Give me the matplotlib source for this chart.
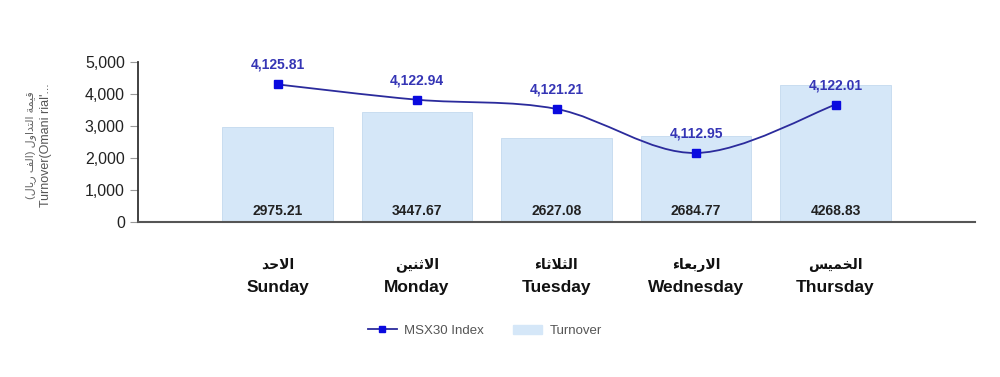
import numpy as np
import matplotlib
matplotlib.use('Agg')
import matplotlib.pyplot as plt
from matplotlib.path import Path
from matplotlib.patches import PathPatch, Patch
from matplotlib.lines import Line2D
from matplotlib.ticker import FuncFormatter

plt.rcParams['font.family'] = ['Liberation Sans', 'DejaVu Sans']

days_en = ['Sunday', 'Monday', 'Tuesday', 'Wednesday', 'Thursday']
days_ar = ['الاحد', 'الاثنين', 'الثلاثاء', 'الاربعاء', 'الخميس']
turnover = [2975.21, 3447.67, 2627.08, 2684.77, 4268.83]
msx30 = [4125.81, 4122.94, 4121.21, 4112.95, 4122.01]
ylabel_ar = 'قيمة التداول (الف ريال)'
ylabel_en = "Turnover(Omani rial'..."

# minimal arabic shaping (presentation forms + visual order)
FORMS = {
    'ا': (0xFE8D, 0xFE8E, None, None), 'أ': (0xFE83, 0xFE84, None, None),
    'ب': (0xFE8F, 0xFE90, 0xFE91, 0xFE92), 'ة': (0xFE93, 0xFE94, None, None),
    'ت': (0xFE95, 0xFE96, 0xFE97, 0xFE98), 'ث': (0xFE99, 0xFE9A, 0xFE9B, 0xFE9C),
    'ح': (0xFEA1, 0xFEA2, 0xFEA3, 0xFEA4), 'خ': (0xFEA5, 0xFEA6, 0xFEA7, 0xFEA8),
    'د': (0xFEA9, 0xFEAA, None, None), 'ر': (0xFEAD, 0xFEAE, None, None),
    'س': (0xFEB1, 0xFEB2, 0xFEB3, 0xFEB4), 'ع': (0xFEC9, 0xFECA, 0xFECB, 0xFECC),
    'ف': (0xFED1, 0xFED2, 0xFED3, 0xFED4), 'ق': (0xFED5, 0xFED6, 0xFED7, 0xFED8),
    'ل': (0xFEDD, 0xFEDE, 0xFEDF, 0xFEE0), 'م': (0xFEE1, 0xFEE2, 0xFEE3, 0xFEE4),
    'ن': (0xFEE5, 0xFEE6, 0xFEE7, 0xFEE8), 'و': (0xFEED, 0xFEEE, None, None),
    'ي': (0xFEF1, 0xFEF2, 0xFEF3, 0xFEF4), 'ء': (0xFE80, None, None, None),
    'لا': (0xFEFB, 0xFEFC, None, None), 'لأ': (0xFEF7, 0xFEF8, None, None),
}
MIRROR = {'(': ')', ')': '('}


def shape_word(w):
    toks = []
    i = 0
    while i < len(w):
        if w[i:i + 2] in FORMS:
            toks.append(w[i:i + 2]); i += 2
        else:
            toks.append(w[i]); i += 1
    out = []
    for k, t in enumerate(toks):
        if t not in FORMS:
            out.append(MIRROR.get(t, t))
            continue
        iso, fin, ini, med = FORMS[t]
        prev = k > 0 and toks[k - 1] in FORMS and FORMS[toks[k - 1]][2] is not None and fin is not None
        nxt = k < len(toks) - 1 and toks[k + 1] in FORMS and ini is not None and FORMS[toks[k + 1]][1] is not None
        if prev and nxt:
            c = med
        elif prev:
            c = fin
        elif nxt:
            c = ini
        else:
            c = iso
        out.append(chr(c))
    return ''.join(reversed(out))


def ar(s):
    return ' '.join(shape_word(w) for w in reversed(s.split(' ')))


fig = plt.figure(figsize=(10, 3.77), dpi=100)
ax = fig.add_axes([0.138, 0.411, 0.837, 0.4244])
x = np.arange(len(days_en))

bars = ax.bar(x, turnover, width=0.79, color='#d5e7f8', edgecolor='#c3d9ee', linewidth=0.6, zorder=2)
for xi, v in zip(x, turnover):
    ax.text(xi, 120, f'{v:.2f}', ha='center', va='bottom', fontsize=10,
            fontweight='bold', color='#222222', zorder=5)

ax.set_xlim(-1.0, 5.0)
ax.set_ylim(0, 5000)
ax.set_yticks([0, 1000, 2000, 3000, 4000, 5000])
ax.yaxis.set_major_formatter(FuncFormatter(lambda v, p: f'{v:,.0f}'))
ax.tick_params(axis='y', labelsize=11.5, colors='#222222', length=6, color='#999999', width=0.8)
ax.set_xticks(x)
ax.set_xticklabels([])
ax.tick_params(axis='x', length=0)
for s in ['top', 'right']:
    ax.spines[s].set_visible(False)
ax.spines['left'].set_color('#333333')
ax.spines['left'].set_linewidth(1.3)
ax.spines['bottom'].set_color('#555555')
ax.spines['bottom'].set_linewidth(1.5)

for xi, en, a in zip(x, days_en, days_ar):
    ax.text(xi, -1340, ar(a), ha='center', va='center', fontsize=10,
            fontweight='bold', color='#111111', clip_on=False)
    ax.text(xi, -2060, en, ha='center', va='center', fontsize=12.5,
            fontweight='bold', color='#111111', clip_on=False)

fig.text(0.031, 0.615, ar(ylabel_ar), rotation=90, ha='center', va='center',
         fontsize=8, color='#666666')
fig.text(0.046, 0.615, ylabel_en, rotation=90, ha='center', va='center',
         fontsize=9, color='#555555')

# index on hidden secondary axis
ax2 = ax.twinx()
ax2.set_ylim(4100, 4130)
ax2.axis('off')

# smooth curve through the points (cubic bezier segments)
px = x.astype(float)
py = np.array(msx30)
verts = [(px[0], py[0])]
codes = [Path.MOVETO]
sm = 1.0 / 3.0
for i in range(len(px) - 1):
    p0 = (px[i - 1], py[i - 1]) if i > 0 else (px[i], py[i])
    p3 = (px[i + 2], py[i + 2]) if i + 2 < len(px) else (px[i + 1], py[i + 1])
    c1 = (px[i] + (px[i + 1] - p0[0]) * sm / 2, py[i] + (py[i + 1] - p0[1]) * sm / 2)
    c2 = (px[i + 1] - (p3[0] - px[i]) * sm / 2, py[i + 1] - (p3[1] - py[i]) * sm / 2)
    verts += [c1, c2, (px[i + 1], py[i + 1])]
    codes += [Path.CURVE4] * 3
ax2.add_patch(PathPatch(Path(verts, codes), facecolor='none', edgecolor='#2b2b9c',
                        linewidth=1.3, zorder=3))
ax2.plot(px, py, linestyle='none', marker='s', markersize=6, color='#0a0adf', zorder=4)
for xi, v in zip(px, py):
    ax2.annotate(f'{v:,.2f}', (xi, v), xytext=(0, 9), textcoords='offset points',
                 ha='center', va='bottom', fontsize=10, fontweight='bold', color='#3535b5')

handles = [Line2D([0], [0], color='#2b2b9c', marker='s', markersize=5,
                  markerfacecolor='#0a0adf', markeredgecolor='#0a0adf', linewidth=1.3),
           Patch(facecolor='#d5e7f8', edgecolor='#d5e7f8')]
fig.legend(handles, ['MSX30 Index', 'Turnover'], loc='center', bbox_to_anchor=(0.485, 0.123),
           ncol=2, frameon=False, fontsize=9.5, labelcolor='#555555', columnspacing=2.2,
           handlelength=2.2, handletextpad=0.6)

fig.savefig('out.png', dpi=100)
